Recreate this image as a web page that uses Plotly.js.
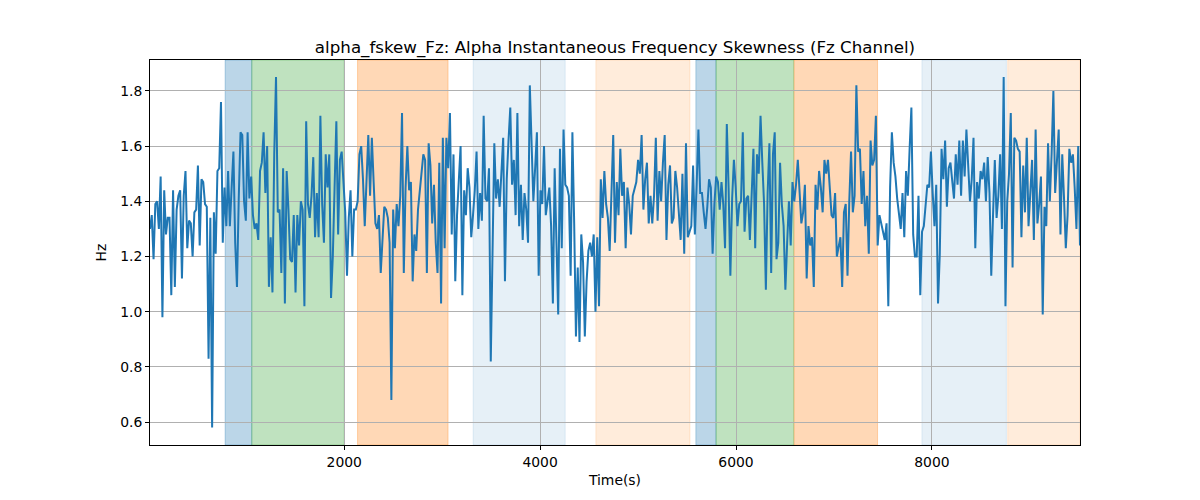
<!DOCTYPE html>
<html>
<head>
<meta charset="utf-8">
<script src="https://cdn.plot.ly/plotly-3.0.1.min.js"></script>
<style>html,body{margin:0;padding:0;background:#fff;}#chart{width:1200px;height:500px;}</style>
</head>
<body>
<div id="chart"></div>
<script>
// ---- data ----
const startTime = 17;      // seconds, first sample
const sampleStep = 18.12;  // seconds between samples

const skewPart1 = [1.30,1.35,1.19,1.39,1.40,1.30,1.49,0.98,1.44,1.28,1.34,1.34,1.06,1.44,1.09,1.37,1.42,1.44,1.12,1.42,1.51,1.23,1.33,1.32,1.20,1.36,1.37,1.53,1.24,1.48,1.47,1.39,1.38,0.83,1.34,0.58,1.36,1.21,1.51,1.52,1.76,1.25,1.45,1.31,
  1.51,1.31,1.45,1.58,1.25,1.09,1.41,1.65,1.64,1.40,1.33,1.65,1.41,1.49,1.35,1.30,1.32,1.26,1.51,1.54,1.65,1.43,1.60,1.09,1.27,1.07,1.57,1.85,1.36,1.37,1.14,1.52,1.03,1.51,1.37,1.19,1.18,1.35,1.07,1.35,1.24,1.40,1.37,1.02];
const skewPart2 = [1.69,1.39,1.34,1.42,1.56,1.27,1.43,1.27,1.71,1.39,1.25,1.57,1.45,1.57,1.05,1.20,1.45,1.69,1.28,1.55,1.58,1.47,1.36,1.13,1.34,1.44,1.20,1.37,1.37,1.40,1.57,1.60,1.48,1.31,1.46,1.64,1.42,1.63,1.47,1.32,1.30,1.35,1.14,1.27,
  1.38,1.37,1.34,1.25,0.68,1.37,1.23,1.39,1.31,1.42,1.72,1.14,1.45,1.60,1.44,1.47,1.11,1.28,1.22,1.37,1.44,1.49,1.57,1.55,1.14,1.61,1.53,1.32,1.46,1.25,1.14,1.54,1.03,1.63,1.23,1.63,1.52,1.72,1.28,1.57,1.11,1.35,1.46,1.60];
const skewPart3 = [1.06,1.44,1.35,1.52,1.45,1.27,1.35,1.44,1.58,1.30,1.43,1.33,1.71,1.41,1.40,1.52,0.82,1.30,1.61,1.41,1.48,1.38,1.53,1.63,1.11,1.48,1.62,1.74,1.46,1.55,1.35,1.72,1.31,1.46,1.26,1.43,1.37,1.25,1.82,1.57,1.40,1.52,1.65,1.13,
  1.44,1.39,1.60,1.35,1.40,1.45,1.31,1.03,1.52,1.22,0.99,1.59,1.23,1.66,1.46,1.45,1.42,1.13,1.65,1.32,0.91,1.16,0.89,1.28,1.18,0.91,1.11,1.22,1.25,1.20,1.28,1.00,1.27,1.02,1.48,1.34,1.51,1.39,1.34,1.22,1.46,1.64,1.25,1.47];
const skewPart4 = [1.35,1.59,1.42,1.47,1.23,1.45,1.39,1.28,1.42,1.45,1.47,1.55,1.50,1.64,1.37,1.48,1.54,1.32,1.42,1.32,1.42,1.63,1.33,1.51,1.40,1.54,1.64,1.26,1.46,1.53,1.32,1.34,1.51,1.45,1.36,1.26,1.50,1.21,1.61,1.27,1.29,1.31,1.53,1.28,
  1.46,1.66,1.43,1.43,1.36,1.30,1.38,1.48,1.45,1.21,1.39,1.49,1.47,1.37,1.47,1.39,1.23,1.68,1.45,1.13,1.41,1.55,1.45,1.31,1.39,1.40,1.65,1.29,1.41,1.42,1.26,1.43,1.59,1.23,1.57,1.50,1.71,1.54,1.39,1.08,1.43,1.61,1.14,1.57];
const skewPart5 = [1.65,1.19,1.25,1.54,1.39,1.31,1.08,1.25,1.40,1.24,1.47,1.40,1.46,1.55,1.43,1.32,1.36,1.46,1.12,1.31,1.24,1.27,1.09,1.46,1.37,1.51,1.45,1.36,1.55,1.50,1.55,1.45,1.35,1.34,1.43,1.20,1.24,1.27,1.09,1.36,1.39,1.13,1.40,1.58,
  1.36,1.42,1.82,1.58,1.59,1.39,1.51,1.31,1.42,1.21,1.62,1.53,1.55,1.71,1.24,1.35,1.32,1.29,1.26,1.32,1.02,1.45,1.65,1.54,1.49,1.41,1.36,1.30,1.43,1.27,1.51,1.42,1.59,1.74,1.28,1.20,1.20,1.42,1.06,1.29,1.31,1.40,1.46,1.45];
const skewPart6 = [1.58,1.43,1.31,1.46,1.03,1.21,1.59,1.48,1.62,1.38,1.52,1.54,1.48,1.41,1.57,1.46,1.62,1.42,1.62,1.49,1.66,1.54,1.40,1.48,1.63,1.23,1.47,1.41,1.51,1.48,1.54,1.40,1.56,1.43,1.13,1.35,1.55,1.34,1.42,1.57,1.30,1.85,1.02,1.40,
  1.50,1.72,1.16,1.63,1.62,1.59,1.58,1.27,1.53,1.36,1.63,1.31,1.42,1.55,1.26,1.66,1.32,1.39,1.49,0.99,1.38,1.31,1.61,1.40,1.57,1.80,1.43,1.54,1.66,1.28,1.57,1.41,1.23,1.35,1.59,1.54,1.57,1.45,1.30,1.60,1.24];

// shaded intervals (seconds)
const spanStarts = [784, 1056, 2136, 3316, 4569, 5590, 5796, 6592, 7898, 8774];
const spanEnds   = [1056, 2000, 3060, 4256, 5530, 5796, 6589, 7445, 8760, 9512];
const spanColors = ['31,119,180', '44,160,44', '255,127,14', '31,119,180', '255,127,14',
                    '31,119,180', '44,160,44', '255,127,14', '31,119,180', '255,127,14'];
const spanAlphas = [0.3, 0.3, 0.3, 0.11, 0.15, 0.3, 0.3, 0.3, 0.11, 0.15];

const yTicks = [0.6, 0.8, 1.0, 1.2, 1.4, 1.6, 1.8];
const xTicks = [2000, 4000, 6000, 8000];

// ---- build ----
const skew = [].concat(skewPart1, skewPart2, skewPart3, skewPart4, skewPart5, skewPart6);
const times = skew.map((_, i) => startTime + i * sampleStep);
const tEnd = times[times.length - 1];

const shapes = spanStarts.map((s, i) => ({
  type: 'rect', xref: 'x', yref: 'paper',
  x0: s, x1: Math.min(spanEnds[i], tEnd), y0: 0, y1: 1,
  fillcolor: 'rgba(' + spanColors[i] + ',' + spanAlphas[i] + ')',
  line: {width: 1, color: 'rgba(' + spanColors[i] + ',' + spanAlphas[i] + ')'},
  layer: 'below'
}));

const font = 'DejaVu Sans, sans-serif';
const trace = {
  x: times, y: skew, type: 'scatter', mode: 'lines',
  line: {color: '#1f77b4', width: 2}, hoverinfo: 'x+y'
};

const layout = {
  width: 1200, height: 500,
  margin: {l: 150, r: 120, t: 60, b: 55},
  paper_bgcolor: '#fff', plot_bgcolor: '#fff',
  showlegend: false,
  font: {family: font, size: 13.9, color: '#000'},
  title: {
    text: 'alpha_fskew_Fz: Alpha Instantaneous Frequency Skewness (Fz Channel)',
    font: {family: font, size: 16.7, color: '#000'},
    x: 0.5, xref: 'paper', xanchor: 'center',
    y: 1, yref: 'paper', yanchor: 'bottom', pad: {b: 7}
  },
  xaxis: {
    range: [times[0], tEnd],
    tickvals: xTicks, ticktext: xTicks.map(String),
    showgrid: true, gridcolor: '#b0b0b0', gridwidth: 1,
    zeroline: false,
    showline: true, mirror: true, linecolor: '#000', linewidth: 1,
    ticks: 'outside', ticklen: 4, tickcolor: '#000', tickwidth: 1,
    tickfont: {family: font, size: 13.9, color: '#000'},
    title: {text: 'Time(s)', font: {family: font, size: 13.9, color: '#000'}, standoff: 6}
  },
  yaxis: {
    range: [0.517, 1.912],
    tickvals: yTicks, ticktext: yTicks.map(v => v.toFixed(1)),
    showgrid: true, gridcolor: '#b0b0b0', gridwidth: 1,
    zeroline: false,
    showline: true, mirror: true, linecolor: '#000', linewidth: 1,
    ticks: 'outside', ticklen: 4, tickcolor: '#000', tickwidth: 1,
    tickfont: {family: font, size: 13.9, color: '#000'},
    title: {text: 'Hz', font: {family: font, size: 13.9, color: '#000'}, standoff: 10}
  },
  shapes: shapes
};

Plotly.newPlot('chart', [trace], layout, {displayModeBar: false, staticPlot: true});
</script>
</body>
</html>
